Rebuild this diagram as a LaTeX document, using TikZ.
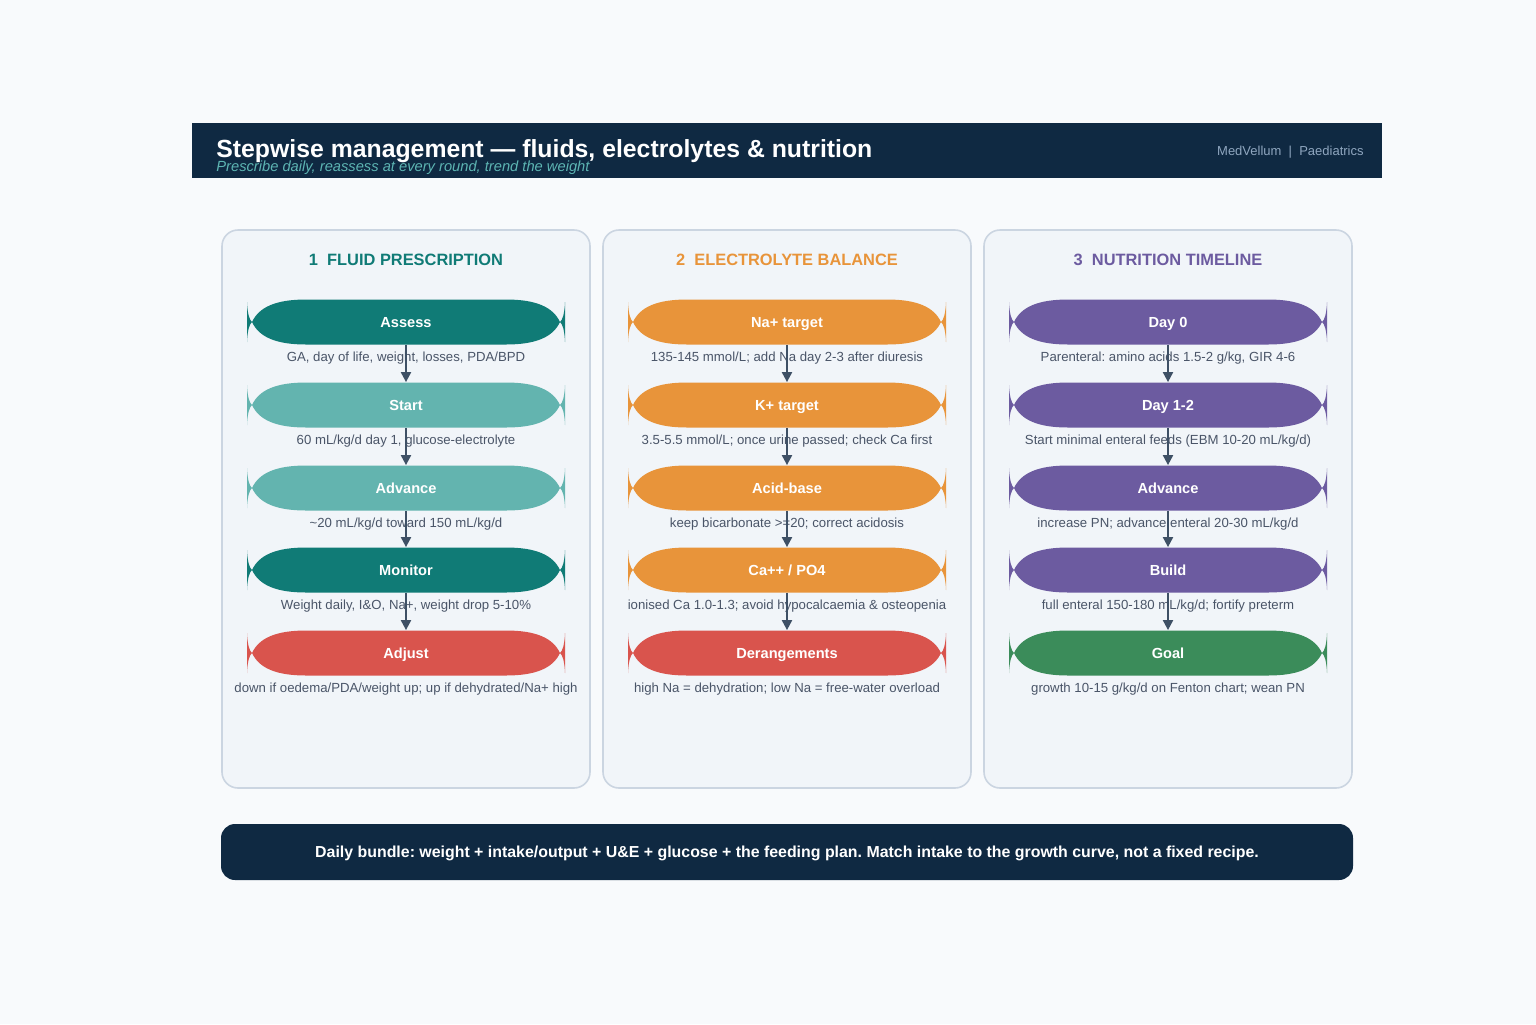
\documentclass[tikz,border=0pt]{standalone}
\usepackage{fontspec}
\setmainfont{Liberation Sans}
\usetikzlibrary{arrows.meta}
\frenchspacing
\definecolor{pagebg}{HTML}{F8FAFC}
\definecolor{navy}{HTML}{0F2942}
\definecolor{subteal}{HTML}{5DB5B3}
\definecolor{brandgray}{HTML}{8FA6BF}
\definecolor{panelbg}{HTML}{F1F5F9}
\definecolor{panelrule}{HTML}{CBD5E1}
\definecolor{tealdk}{HTML}{107B76}
\definecolor{teallt}{HTML}{63B4AF}
\definecolor{alertred}{HTML}{D9544D}
\definecolor{elecorange}{HTML}{E8943A}
\definecolor{nutpurple}{HTML}{6C5BA0}
\definecolor{goalgreen}{HTML}{3B8C5A}
\definecolor{notegray}{HTML}{4A5568}
\definecolor{arrowslate}{HTML}{3E5065}

% pill with flared tips: name, x, y, colour, label
\newcommand{\flowpill}[5]{%
  \begin{scope}[shift={(#2,#3)}]
    \fill[#4] (-154,0) .. controls (-147,-15) and (-130,-22.5) .. (-100,-22.5)
      -- (100,-22.5) .. controls (130,-22.5) and (147,-15) .. (154,0)
      .. controls (147,15) and (130,22.5) .. (100,22.5)
      -- (-100,22.5) .. controls (-130,22.5) and (-147,15) .. (-154,0) -- cycle;
    \fill[#4] (-159,-20) .. controls (-158.5,-8) and (-156.5,-2) .. (-154,0)
      .. controls (-156.5,2) and (-158.5,8) .. (-159,20) -- cycle;
    \fill[#4] (159,-20) .. controls (158.5,-8) and (156.5,-2) .. (154,0)
      .. controls (156.5,2) and (158.5,8) .. (159,20) -- cycle;
  \end{scope}
  \node[pill] (#1) at (#2,#3) {#5};}

\begin{document}
\begin{tikzpicture}[
  x=0.5pt, y=-0.5pt,
  panel/.style={draw=panelrule, line width=0.8pt, fill=panelbg, rounded corners=8pt,
                minimum width=184pt, minimum height=279pt, inner sep=0pt},
  ptitle/.style={anchor=base, font=\bfseries\fontsize{8.2}{10}\selectfont},
  pill/.style={font=\bfseries\fontsize{7.3}{9}\selectfont, text=white, inner sep=0pt,
               minimum width=150pt, minimum height=22.5pt, text height=5.25pt, text depth=0pt},
  note/.style={anchor=base, font=\fontsize{6.6}{8}\selectfont, text=notegray},
  flow/.style={-{Triangle[width=5pt,length=5pt]}, line width=1pt, draw=arrowslate},
]
\useasboundingbox[fill=pagebg] (0,0) rectangle (1536,1024);

% ---- Header bar ----
\node[fill=navy, minimum width=595pt, minimum height=27.5pt, inner sep=0pt] (hdr) at (787,150.5) {};
\node[anchor=base west, text=white, font=\bfseries\fontsize{12.4}{14}\selectfont, inner sep=0pt]
  (title) at (216,157) {Stepwise management — fluids, electrolytes \& nutrition};
\node[anchor=base west, text=subteal, font=\itshape\fontsize{7.35}{9}\selectfont, inner sep=0pt]
  (subtitle) at (216,171) {Prescribe daily, reassess at every round, trend the weight};
\node[anchor=base east, text=brandgray, font=\fontsize{6.5}{8}\selectfont, inner sep=0pt]
  (brand) at (1364,155) {MedVellum\ \ |\ \ Paediatrics};

% ---- Panels ----
\node[panel] (fluidpanel) at (406,509) {};
\node[panel] (elecpanel) at (787,509) {};
\node[panel] (nutpanel) at (1168,509) {};

\node[ptitle, text=tealdk] (fluidtitle) at (406,265) {1\ \ FLUID PRESCRIPTION};
\node[ptitle, text=elecorange] (electitle) at (787,265) {2\ \ ELECTROLYTE BALANCE};
\node[ptitle, text=nutpurple] (nuttitle) at (1168,265) {3\ \ NUTRITION TIMELINE};

% ---- Column 1: fluids ----
\flowpill{assess}{406}{322}{tealdk}{Assess}
\flowpill{start}{406}{405}{teallt}{Start}
\flowpill{advance}{406}{488}{teallt}{Advance}
\flowpill{monitor}{406}{570}{tealdk}{Monitor}
\flowpill{adjust}{406}{653}{alertred}{Adjust}

\node[note] (assess-n) at (406,361) {GA, day of life, weight, losses, PDA/BPD};
\node[note] (start-n) at (406,444) {60 mL/kg/d day 1, glucose-electrolyte};
\node[note] (advance-n) at (406,527) {\textasciitilde20 mL/kg/d toward 150 mL/kg/d};
\node[note] (monitor-n) at (406,609) {Weight daily, I\&O, Na+, weight drop 5-10\%};
\node[note] (adjust-n) at (406,692) {down if oedema/PDA/weight up; up if dehydrated/Na+ high};

\draw[flow] (assess.south) -- (start.north);
\draw[flow] (start.south) -- (advance.north);
\draw[flow] (advance.south) -- (monitor.north);
\draw[flow] (monitor.south) -- (adjust.north);

% ---- Column 2: electrolytes ----
\flowpill{natarget}{787}{322}{elecorange}{Na+ target}
\flowpill{ktarget}{787}{405}{elecorange}{K+ target}
\flowpill{acidbase}{787}{488}{elecorange}{Acid-base}
\flowpill{capo}{787}{570}{elecorange}{Ca++ / PO4}
\flowpill{derange}{787}{653}{alertred}{Derangements}

\node[note] (natarget-n) at (787,361) {135-145 mmol/L; add Na day 2-3 after diuresis};
\node[note] (ktarget-n) at (787,444) {3.5-5.5 mmol/L; once urine passed; check Ca first};
\node[note] (acidbase-n) at (787,527) {keep bicarbonate >=20; correct acidosis};
\node[note] (capo-n) at (787,609) {ionised Ca 1.0-1.3; avoid hypocalcaemia \& osteopenia};
\node[note] (derange-n) at (787,692) {high Na = dehydration; low Na = free-water overload};

\draw[flow] (natarget.south) -- (ktarget.north);
\draw[flow] (ktarget.south) -- (acidbase.north);
\draw[flow] (acidbase.south) -- (capo.north);
\draw[flow] (capo.south) -- (derange.north);

% ---- Column 3: nutrition ----
\flowpill{dayzero}{1168}{322}{nutpurple}{Day 0}
\flowpill{dayone}{1168}{405}{nutpurple}{Day 1-2}
\flowpill{feedadv}{1168}{488}{nutpurple}{Advance}
\flowpill{build}{1168}{570}{nutpurple}{Build}
\flowpill{goal}{1168}{653}{goalgreen}{Goal}

\node[note] (dayzero-n) at (1168,361) {Parenteral: amino acids 1.5-2 g/kg, GIR 4-6};
\node[note] (dayone-n) at (1168,444) {Start minimal enteral feeds (EBM 10-20 mL/kg/d)};
\node[note] (feedadv-n) at (1168,527) {increase PN; advance enteral 20-30 mL/kg/d};
\node[note] (build-n) at (1168,609) {full enteral 150-180 mL/kg/d; fortify preterm};
\node[note] (goal-n) at (1168,692) {growth 10-15 g/kg/d on Fenton chart; wean PN};

\draw[flow] (dayzero.south) -- (dayone.north);
\draw[flow] (dayone.south) -- (feedadv.north);
\draw[flow] (feedadv.south) -- (build.north);
\draw[flow] (build.south) -- (goal.north);

% ---- Footer bundle ----
\node[fill=navy, rounded corners=7pt, minimum width=566pt, minimum height=28pt, inner sep=0pt,
      text=white, font=\bfseries\fontsize{7.95}{9}\selectfont, text height=5.6pt, text depth=0pt]
  (bundle) at (787,852)
  {Daily bundle: weight + intake/output + U\&E + glucose + the feeding plan. Match intake to the growth curve, not a fixed recipe.};

\end{tikzpicture}
\end{document}
